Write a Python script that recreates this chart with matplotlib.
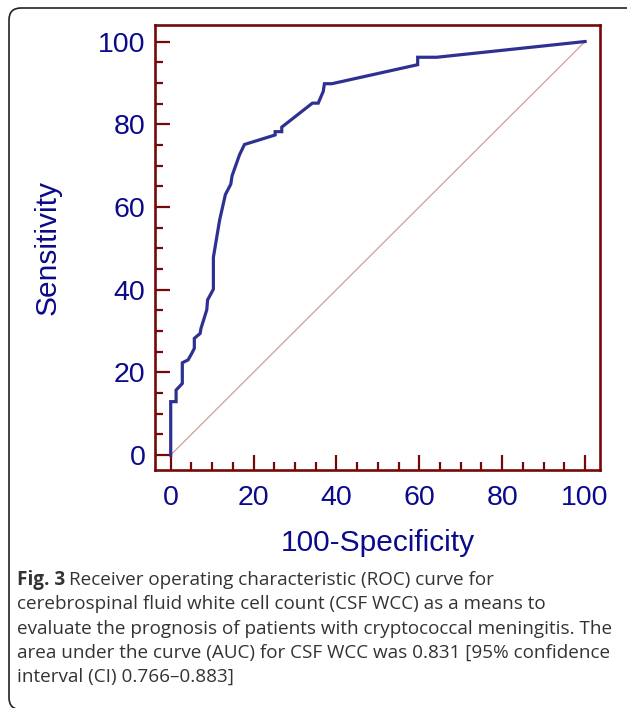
import matplotlib
matplotlib.use("Agg")
import matplotlib.pyplot as plt
from matplotlib.patches import FancyBboxPatch
from matplotlib.ticker import MultipleLocator

# ROC curve points (100-Specificity, Sensitivity)
fpr = [0, 0, 1.3, 1.3, 2.8, 2.8, 4.2, 5.1, 5.7, 5.7, 7.1, 7.3, 8.7, 8.9, 10.3,
       10.3, 11.8, 13.2, 14.5, 14.8, 16.6, 17.8, 25.2, 25.2, 26.8, 26.8, 34.2,
       35.6, 36.8, 37.1, 38.9, 59.6, 59.6, 64.2, 100]
tpr = [0, 12.9, 12.9, 15.7, 17.3, 22.3, 23.0, 24.6, 25.8, 28.2, 29.4, 30.6, 35.1,
       37.5, 40.1, 47.8, 56.8, 63.0, 65.5, 67.5, 72.6, 75.1, 77.4, 78.2, 78.2,
       79.3, 85.1, 85.1, 87.9, 89.8, 89.8, 94.4, 96.2, 96.2, 100]
diag = [0, 100]
ticks = [0, 20, 40, 60, 80, 100]

navy = "#0A0A8A"
maroon = "#750808"
W, H = 627, 708

fig = plt.figure(figsize=(W / 100, H / 100), dpi=100)

# rounded frame (pixel coordinates, origin bottom-left)
frame = FancyBboxPatch((9, H - 709.5), 640 - 9, 709.5 - 8,
                       boxstyle="round,pad=0,rounding_size=12",
                       transform=None, fill=False,
                       edgecolor="#222222", linewidth=1.2, clip_on=False)
fig.patches.append(frame)

ax = fig.add_axes([155 / W, 1 - 470 / H, 445 / W, 445 / H])
ax.plot(diag, diag, color="#D49C9C", linewidth=0.9, zorder=2)
ax.plot(fpr, tpr, color="#2E3192", linewidth=2.3, solid_joinstyle="miter", zorder=3)

ax.set_xlim(-3.79, 103.6)
ax.set_ylim(-3.63, 104.0)
ax.set_xticks(ticks)
ax.set_yticks(ticks)
ax.xaxis.set_minor_locator(MultipleLocator(5))
ax.yaxis.set_minor_locator(MultipleLocator(5))

font = "Liberation Sans"
for s in ax.spines.values():
    s.set_color(maroon)
    s.set_linewidth(1.9)
ax.tick_params(which="both", direction="in", color=maroon, width=1.6,
               top=False, right=False)
ax.tick_params(which="major", length=11, labelsize=20.5, labelcolor=navy)
ax.tick_params(which="minor", length=5.5)
ax.tick_params(axis="x", which="major", pad=11)
ax.tick_params(axis="y", which="major", pad=7)
for lab in ax.get_xticklabels() + ax.get_yticklabels():
    lab.set_fontfamily(font)

ax.set_xlabel("100-Specificity", fontsize=21.5, color=navy, family=font, labelpad=13)
ax.set_ylabel("Sensitivity", fontsize=21.5, color=navy, family=font, labelpad=26)

cap_font = "Open Sans"
cap_color = "#333333"
cap_size = 13.55
x0 = 17 / W
lines = [
    "cerebrospinal fluid white cell count (CSF WCC) as a means to",
    "evaluate the prognosis of patients with cryptococcal meningitis. The",
    "area under the curve (AUC) for CSF WCC was 0.831 [95% confidence",
    "interval (CI) 0.766\u20130.883]",
]
y_first = 580
step = 24.3
t = fig.text(x0, 1 - y_first / H, "Fig. 3", fontsize=cap_size, fontweight="bold",
             family=cap_font, color=cap_color, va="center", ha="left")
fig.canvas.draw()
bb = t.get_window_extent()
fig.text(bb.x1 / W + 0.006, 1 - y_first / H,
         "Receiver operating characteristic (ROC) curve for",
         fontsize=cap_size, family=cap_font, color=cap_color, va="center", ha="left")
for i, ln in enumerate(lines):
    fig.text(x0, 1 - (y_first + step * (i + 1)) / H, ln, fontsize=cap_size,
             family=cap_font, color=cap_color, va="center", ha="left")

fig.savefig("out.png", dpi=100)
